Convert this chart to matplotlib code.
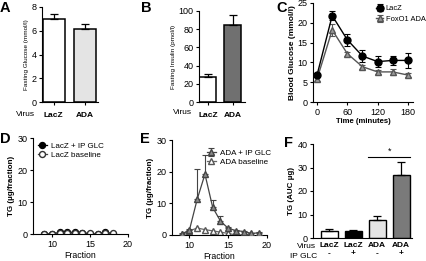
import matplotlib
matplotlib.use('Agg')
import matplotlib.pyplot as plt
import numpy as np

plt.rcParams['font.family'] = ['Liberation Sans', 'DejaVu Sans']
plt.rcParams['axes.linewidth'] = 0.8

W, H = 427, 261

# ---- data ----
a_labels = ['LacZ', 'ADA']
a_glucose = [6.95, 6.15]
a_err = [0.5, 0.4]

b_labels = ['LacZ', 'ADA']
b_insulin = [28, 85]
b_err = [2.3, 11]

c_time = [0, 30, 60, 90, 120, 150, 180]
c_lacz = [6.8, 21.8, 15.7, 11.6, 10.2, 10.5, 10.5]
c_lacz_err = [0.5, 1.2, 1.5, 1.5, 1.3, 1.2, 1.8]
c_ada = [5.8, 18.2, 12.2, 8.9, 7.6, 7.6, 6.8]
c_ada_err = [0.4, 1.5, 0.5, 0.5, 0.5, 0.7, 0.4]

d_frac = [9, 10, 11, 12, 13, 14, 15, 16, 17, 18]
d_glc = [0.0, 0.0, 0.5, 0.6, 0.5, 0.3, 0.1, 0.0, 0.6, 0.1]
d_base = [0.1, 0.0, 0.2, 0.3, 0.2, 0.4, 0.2, 0.1, 0.2, 0.2]

e_frac_glc = [9, 10, 11, 12, 13, 14, 15, 16, 17, 18, 19]
e_glc = [0.3, 1.6, 11.3, 19.2, 8.7, 4.4, 2.1, 1.4, 1.1, 0.5, 0.7]
e_glc_err = [0.2, 0.3, 9.4, 6.2, 2.4, 1.5, 0.4, 0.3, 0.2, 0.2, 0.2]
e_frac_base = [9, 10, 11, 12, 13, 14, 15, 16, 17, 18]
e_base = [0.2, 1.3, 2.2, 1.7, 1.3, 0.9, 0.5, 0.0, 0.1, 0.2]

f_virus = ['LacZ', 'LacZ', 'ADA', 'ADA']
f_ipglc = ['-', '+', '-', '+']
f_tg = [3.0, 2.8, 7.7, 26.9]
f_err = [0.9, 0.5, 1.6, 5.5]

fig = plt.figure(figsize=(W / 100, H / 100), dpi=100)


def px_axes(l, t, r, b):
    ax = fig.add_axes([l / W, 1 - b / H, (r - l) / W, (b - t) / H])
    ax.spines['top'].set_visible(False)
    ax.spines['right'].set_visible(False)
    ax.tick_params(labelsize=6.5, length=2.5, width=0.8, pad=1.5)
    return ax


def ftext(x, y, s, **kw):
    fig.text(x / W, 1 - y / H, s, **kw)


# ---- A ----
ax = px_axes(42, 7, 98, 102)
ax.bar([0, 1], a_glucose, width=0.7, color=['white', '#e4e4e4'], edgecolor='black', linewidth=1.1,
       yerr=[[0, 0], a_err], capsize=3, error_kw=dict(elinewidth=0.9, capthick=0.9))
ax.set_xlim(-0.37, 1.41)
ax.set_ylim(0, 8)
ax.set_yticks([0, 2, 4, 6, 8])
ax.set_xticks([0, 1])
ax.set_xticklabels(a_labels, fontweight='bold', fontsize=6)
ax.tick_params(axis='x', length=2, pad=5)
ax.set_ylabel('Fasting Glucose (mmol/l)', fontsize=4.6, labelpad=2)
ftext(25, 114, 'Virus', fontsize=6, ha='center', va='center')

# ---- B ----
ax = px_axes(199, 11, 245, 102)
ax.bar([0, 1], b_insulin, width=0.68, color=['white', '#707070'], edgecolor='black', linewidth=1.1,
       yerr=[[0, 0], b_err], capsize=3, error_kw=dict(elinewidth=0.9, capthick=0.9))
ax.set_xlim(-0.36, 1.48)
ax.set_ylim(0, 100)
ax.set_yticks([0, 20, 40, 60, 80, 100])
ax.set_xticks([0, 1])
ax.set_xticklabels(b_labels, fontweight='bold', fontsize=6)
ax.tick_params(axis='x', length=2, pad=5)
ax.set_ylabel('Fasting Insulin (pmol/l)', fontsize=4.6, labelpad=2)
ftext(182, 113, 'Virus', fontsize=6, ha='center', va='center')

# ---- C ----
ax = px_axes(313, 3, 413, 102)
ax.errorbar(c_time, c_ada, yerr=c_ada_err, color='#555555', lw=1.0, marker='^', ms=5,
            mfc='#9a9a9a', mec='#555555', capsize=2.5, elinewidth=0.8, capthick=0.8,
            label='FoxO1 ADA', zorder=2)
ax.errorbar(c_time, c_lacz, yerr=c_lacz_err, color='black', lw=1.0, marker='o', ms=5,
            mfc='black', mec='black', capsize=2.5, elinewidth=0.8, capthick=0.8,
            label='LacZ', zorder=3)
ax.set_xlim(-8, 190)
ax.set_ylim(0, 25)
ax.set_xticks([0, 60, 120, 180])
ax.set_yticks([0, 5, 10, 15, 20, 25])
ax.set_xlabel('Time (minutes)', fontsize=5.6, fontweight='bold', labelpad=1)
ax.set_ylabel('Blood Glucose (mmol/l)', fontsize=6, fontweight='bold', labelpad=1)
h, l = ax.get_legend_handles_labels()
ax.legend(h[::-1], l[::-1], loc='upper left', bbox_to_anchor=(376 / W, 1 - 5 / H),
          bbox_transform=fig.transFigure, frameon=False, fontsize=5.4, handlelength=1.0,
          handletextpad=0.3, labelspacing=0.45, borderpad=0, borderaxespad=0)

# ---- D ----
ax = px_axes(33, 138, 128, 234)
ax.plot(d_frac, d_glc, color='black', lw=0.9, marker='o', ms=4.3, mfc='black', mec='black',
        label='LacZ + IP GLC')
ax.plot(d_frac, d_base, color='#444444', lw=0.9, marker='o', ms=4.3, mfc='white', mec='#333333',
        label='LacZ baseline')
ax.set_xlim(7.5, 20)
ax.set_ylim(0, 30)
ax.set_xticks([10, 15, 20])
ax.set_yticks([0, 10, 20, 30])
ax.set_xlabel('Fraction', fontsize=6.3, labelpad=2)
ax.set_ylabel('TG (\u00b5g/fraction)', fontsize=5.8, fontweight='bold', labelpad=2)
ax.legend(loc='upper left', bbox_to_anchor=(38 / W, 1 - 142 / H), bbox_transform=fig.transFigure,
          frameon=False, fontsize=5.8, handlelength=1.1, handletextpad=0.5, labelspacing=0.25,
          borderpad=0, borderaxespad=0)

# ---- E ----
ax = px_axes(172, 140, 267, 235)
ax.errorbar(e_frac_glc, e_glc, yerr=[np.zeros(len(e_glc_err)), e_glc_err], color='#444444', lw=0.9,
            marker='^', ms=4.5, mfc='#8a8a8a', mec='#444444', capsize=2.2, elinewidth=0.8,
            capthick=0.8, label='ADA + IP GLC', zorder=3)
ax.plot(e_frac_base, e_base, color='#666666', lw=0.9, marker='^', ms=4.5, mfc='white',
        mec='#555555', label='ADA baseline', zorder=2)
ax.set_xlim(7.75, 20)
ax.set_ylim(0, 30)
ax.set_xticks([10, 15, 20])
ax.set_yticks([0, 10, 20, 30])
ax.set_xlabel('Fraction', fontsize=6.3, labelpad=2)
ax.set_ylabel('TG (\u00b5g/fraction)', fontsize=5.8, fontweight='bold', labelpad=2)
h, l = ax.get_legend_handles_labels()
order = [l.index('ADA + IP GLC'), l.index('ADA baseline')]
ax.legend([h[i] for i in order], [l[i] for i in order], loc='upper left',
          bbox_to_anchor=(207 / W, 1 - 149 / H), bbox_transform=fig.transFigure,
          frameon=False, fontsize=5.8, handlelength=1.1, handletextpad=0.5, labelspacing=0.25,
          borderpad=0, borderaxespad=0)

# ---- F ----
ax = px_axes(313, 144, 412, 238)
xf = np.arange(len(f_tg))
ax.bar(xf, f_tg, width=0.7, color=['white', 'black', '#e4e4e4', '#7a7a7a'], edgecolor='black',
       linewidth=1.0, yerr=[np.zeros(len(f_err)), f_err], capsize=3,
       error_kw=dict(elinewidth=0.9, capthick=0.9))
ax.plot([2 - 0.38, 3 + 0.38], [34.4, 34.4], color='black', lw=0.8)
ax.text(2.5, 35.2, '*', ha='center', va='bottom', fontsize=6.5)
ax.set_xlim(-0.67, 3.45)
ax.set_ylim(0, 40)
ax.set_yticks([0, 10, 20, 30, 40])
ax.set_xticks(xf)
ax.set_xticklabels([v + '\n' + g for v, g in zip(f_virus, f_ipglc)], fontweight='bold',
                   fontsize=6, linespacing=1.2)
ax.tick_params(axis='x', length=0, pad=3)
ax.set_ylabel('TG (AUC \u00b5g)', fontsize=5.8, fontweight='bold', labelpad=2)
ftext(316, 247, 'Virus', fontsize=6, ha='right', va='center')
ftext(317, 257, 'IP GLC', fontsize=6, ha='right', va='center')

# ---- panel letters ----
for s, x, y in [('A', 0, 1), ('B', 141, 1), ('C', 276, 1), ('D', 0, 132), ('E', 140, 132),
                ('F', 284, 136)]:
    ftext(x, y, s, fontsize=10.5, fontweight='bold', ha='left', va='top')

fig.savefig('out.png', dpi=100)
